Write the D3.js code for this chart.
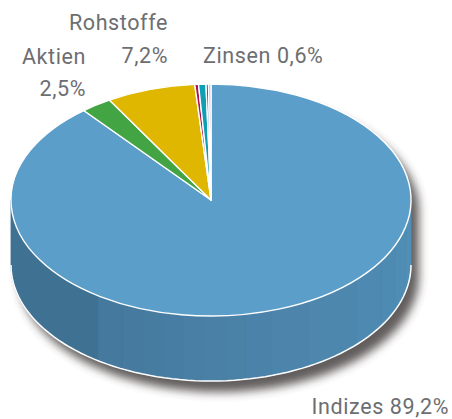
<!DOCTYPE html>
<html><head><meta charset="utf-8">
<script src="https://cdn.jsdelivr.net/npm/d3@7"></script>
<style>html,body{margin:0;padding:0;background:#fff}svg{display:block}text{font-family:Roboto,sans-serif;font-size:21.5px;fill:#6d6e71;letter-spacing:.6px}</style>
</head><body><svg id="c" width="452" height="419"></svg>
<script>
const categories=["Indizes","Aktien","Rohstoffe","Sonstige 1","Zinsen","Sonstige 2","Sonstige 3"];
const values=[89.2,2.5,7.2,0.3,0.6,0.2,0.2];
const colors=["#5b9ec9","#43a444","#e0b700","#b0124f","#0e9fb5","#1a5fa8","#c9b3d9"];
const sideBands=[25,28.6,31.4,33.8,37.1,41.9,45.1,47.3,48.8,50.7,52.2,53.9,55.5,57.3,59.6,75];
const labels=[
 {lines:[["Rohstoffe",168,30],["7,2%",168,63]],anchor:"end"},
 {lines:[["Aktien",86,64],["2,5%",86,96]],anchor:"end"},
 {lines:[["Zinsen 0,6%",203,63]],anchor:"start"},
 {lines:[["Indizes 89,2%",449,414]],anchor:"end"}];
const cx=211,cy=200,rx=200,ry=116,depth=65;
const svg=d3.select("#c");
const defs=svg.append("defs");
const f=defs.append("filter").attr("id","sh").attr("filterUnits","userSpaceOnUse").attr("x",-20).attr("y",-20).attr("width",500).attr("height",470);
f.append("feGaussianBlur").attr("stdDeviation",5);
const pct=d3.scaleLinear().domain([0,100]).range([0,2*Math.PI]);
const X=d3.scaleLinear().domain([-1,1]).range([cx-rx,cx+rx]);
const Y=d3.scaleLinear().domain([-1,1]).range([cy-ry,cy+ry]);
const pt=(p,dy)=>[X(Math.sin(pct(p))),Y(-Math.cos(pct(p)))+dy];
const line=d3.line();
function rim(a,b){return d3.range(0,81).map(i=>a+(b-a)*i/80);}
function sidePath(a,b){const s=rim(a,b);return line(s.map(p=>pt(p,0)).concat(s.slice().reverse().map(p=>pt(p,depth))))+"Z";}
// shadow: outline of the whole disc
const outline=line(rim(-25,25).map(p=>pt(p,0)).concat(rim(25,75).map(p=>pt(p,depth))))+"Z";
svg.append("path").attr("d",outline).attr("fill","#3a3535").attr("opacity",.8).attr("filter","url(#sh)").attr("transform","translate(8,11)");
// side
const shade=d3.scaleLinear().domain([25,50,75]).range(["#5090b8","#4a80a6","#3a6a8a"]);
const bands=d3.pairs(sideBands);
svg.append("g").selectAll("path").data(bands).join("path").attr("d",d=>sidePath(d[0],d[1]))
  .attr("fill",d=>shade((d[0]+d[1])/2)).attr("stroke",d=>shade((d[0]+d[1])/2)).attr("stroke-width",.8);
// rim line
svg.append("path").attr("d",line(rim(25,75).map(p=>pt(p,depth)))).attr("fill","none").attr("stroke","#fff").attr("stroke-width",1.5);
// top
const pie=d3.pie().sort(null).value(d=>d)(values);
const arc=d3.arc().innerRadius(0).outerRadius(rx);
svg.append("g").attr("transform",`translate(${cx},${cy}) scale(1,${ry/rx})`)
 .selectAll("path").data(pie).join("path").attr("d",arc).attr("fill",(d,i)=>colors[i])
 .attr("stroke","#fff").attr("stroke-width",1.4).attr("stroke-linejoin","round").attr("vector-effect","non-scaling-stroke");
// labels
labels.forEach(l=>l.lines.forEach(t=>svg.append("text").attr("x",t[1]).attr("y",t[2]).attr("text-anchor",l.anchor).text(t[0])));
</script></body></html>
